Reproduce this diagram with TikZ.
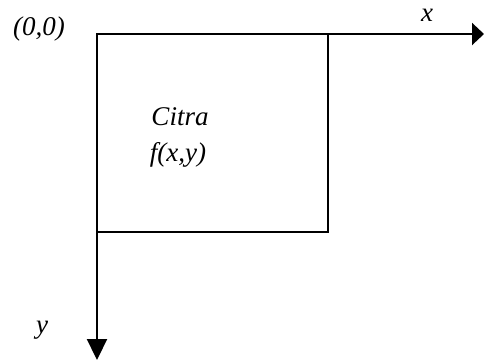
\documentclass[tikz,border=0pt]{standalone}
\usepackage{fontspec}
\setmainfont{Liberation Serif}
\usetikzlibrary{arrows.meta}
\begin{document}
\begin{tikzpicture}[x=1pt,y=-1pt,
  axis/.style={line width=2.2pt},
  lbl/.style={font=\fontsize{27}{31}\selectfont\itshape, inner sep=0pt},
  box/.style={line width=2.2pt}]
\useasboundingbox (0,0) rectangle (484,360);
\coordinate (O) at (97,34);
\coordinate (C) at (328,232);
\coordinate (xend) at (484,34);
\coordinate (yend) at (97,360);
\draw[box] (O) rectangle (C);
\draw[axis,-{Triangle[length=12pt,width=22pt]}] (O) -- (xend);
\draw[axis,-{Triangle[length=21pt,width=20pt]}] (O) -- (yend);
\node[lbl] (orig) at (39,29) {(0,0)};
\node[lbl] (xl) at (427,15) {x};
\node[lbl] (yl) at (42,330) {y};
\node[lbl] (citra) at (180,117) {Citra};
\node[lbl] (fxy) at (178,155) {f(x,y)};
\end{tikzpicture}
\end{document}
